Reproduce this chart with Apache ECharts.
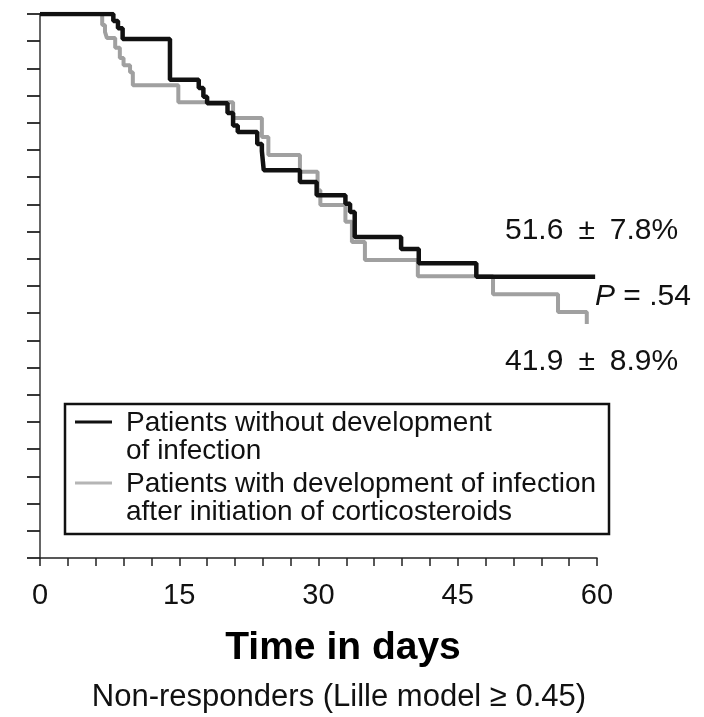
<!DOCTYPE html>
<html>
<head>
<meta charset="utf-8">
<script src="https://cdn.jsdelivr.net/npm/echarts@6/dist/echarts.min.js"></script>
<style>
html,body{margin:0;padding:0;background:#fff;}
#chart{width:704px;height:717px;}
</style>
</head>
<body>
<div id="chart"></div>
<script>
// ---- Data ----
const blackTimes = [0, 7.9, 8.4, 8.9, 14.0, 17.1, 17.6, 18.0, 20.2, 20.8, 21.3, 23.4, 23.9, 24.1, 28.0, 29.8, 32.9, 33.4, 33.9, 38.9, 40.8, 47.0, 59.8];
const blackSurv  = [100, 98.7, 97.4, 95.4, 87.9, 86.4, 84.8, 83.6, 81.8, 79.5, 78.3, 76.1, 74.8, 71.3, 69.1, 66.7, 65.1, 63.6, 59.0, 56.8, 54.2, 51.7, 51.7];
const grayTimes  = [0, 6.7, 7.0, 7.2, 8.1, 8.6, 9.0, 9.7, 10.0, 14.9, 20.8, 23.9, 24.6, 28.0, 29.9, 30.2, 32.9, 33.6, 35.0, 40.7, 48.8, 55.8, 58.9];
const graySurv   = [100, 98.0, 96.7, 95.6, 93.8, 91.9, 90.6, 89.3, 86.9, 83.8, 80.9, 77.4, 74.1, 71.0, 67.6, 64.9, 61.8, 58.1, 54.8, 51.8, 48.5, 45.2, 43.0];
const xTickLabels = [0, 15, 30, 45, 60];
const seriesNames = ['Patients without development\nof infection', 'Patients with development of infection\nafter initiation of corticosteroids'];
const legendLines = [['Patients without development', 'of infection'], ['Patients with development of infection', 'after initiation of corticosteroids']];
const annotTop = '51.6\u2002\u00B1\u20027.8%';
const annotP = '.54';
const annotBottom = '41.9\u2002\u00B1\u20028.9%';
const xTitle = 'Time in days';
const subTitle = 'Non-responders (Lille model \u2265 0.45)';

const FONT = '"Liberation Sans", Arial, Helvetica, sans-serif';
const BLACK = '#111111';
const GRAY = '#a0a0a0';

const chart = echarts.init(document.getElementById('chart'), null, {renderer: 'canvas'});

function pairs(t, v) { return t.map((x, i) => [x, v[i]]); }

const option = {
  backgroundColor: '#ffffff',
  animation: false,
  grid: {left: 40, right: 107, top: 14, bottom: 159, containLabel: false},
  xAxis: {
    type: 'value', min: 0, max: 60, interval: 3,
    axisLine: {show: true, onZero: false, lineStyle: {color: '#222', width: 1.5}},
    axisTick: {show: true, inside: false, length: 8, lineStyle: {color: '#222', width: 1.5}},
    axisLabel: {
      show: true, margin: 23, fontSize: 29, color: '#111', fontFamily: FONT,
      formatter: function (v) { return xTickLabels.indexOf(v) >= 0 ? String(v) : ''; }
    },
    splitLine: {show: false}
  },
  yAxis: {
    type: 'value', min: 0, max: 100, interval: 5,
    axisLine: {show: true, lineStyle: {color: '#666', width: 2}},
    axisTick: {show: true, inside: false, length: 13, lineStyle: {color: '#222', width: 1.8}},
    axisLabel: {show: false},
    splitLine: {show: false}
  },
  series: [
    {
      name: seriesNames[1], type: 'line', step: 'end', showSymbol: false, symbol: 'none',
      data: pairs(grayTimes, graySurv),
      lineStyle: {color: GRAY, width: 4}, z: 2
    },
    {
      name: seriesNames[0], type: 'line', step: 'end', showSymbol: false, symbol: 'none',
      data: pairs(blackTimes, blackSurv),
      lineStyle: {color: BLACK, width: 4.5}, z: 3
    }
  ],
  graphic: [
    {type: 'text', x: 505, y: 231, style: {text: annotTop, font: '30px ' + FONT, fill: '#111', align: 'left', verticalAlign: 'middle'}},
    {type: 'text', x: 595, y: 297, style: {text: '{it|P} = ' + annotP, font: '30px ' + FONT, fill: '#111', align: 'left', verticalAlign: 'middle',
      rich: {it: {fontStyle: 'italic', fontSize: 30, fontFamily: FONT, fill: '#111'}}}},
    {type: 'text', x: 505, y: 362, style: {text: annotBottom, font: '30px ' + FONT, fill: '#111', align: 'left', verticalAlign: 'middle'}},
    // legend box
    {type: 'rect', shape: {x: 65, y: 404, width: 544, height: 130}, style: {fill: 'none', stroke: '#111', lineWidth: 2.5}},
    {type: 'line', shape: {x1: 75, y1: 422, x2: 112, y2: 422}, style: {stroke: BLACK, lineWidth: 3}},
    {type: 'text', x: 126, y: 423, style: {text: legendLines[0][0], font: '28px ' + FONT, fill: '#111', verticalAlign: 'middle'}},
    {type: 'text', x: 126, y: 451, style: {text: legendLines[0][1], font: '28px ' + FONT, fill: '#111', verticalAlign: 'middle'}},
    {type: 'line', shape: {x1: 75, y1: 483, x2: 112, y2: 483}, style: {stroke: '#b5b5b5', lineWidth: 3}},
    {type: 'text', x: 126, y: 484, style: {text: legendLines[1][0], font: '28px ' + FONT, fill: '#111', verticalAlign: 'middle'}},
    {type: 'text', x: 126, y: 512, style: {text: legendLines[1][1], font: '28px ' + FONT, fill: '#111', verticalAlign: 'middle'}},
    // axis title and subtitle
    {type: 'text', x: 343, y: 648, style: {text: xTitle, font: 'bold 39px ' + FONT, fill: '#000', align: 'center', verticalAlign: 'middle'}},
    {type: 'text', x: 339, y: 697, style: {text: subTitle, font: '31px ' + FONT, fill: '#111', align: 'center', verticalAlign: 'middle'}}
  ]
};
chart.setOption(option);
</script>
</body>
</html>
